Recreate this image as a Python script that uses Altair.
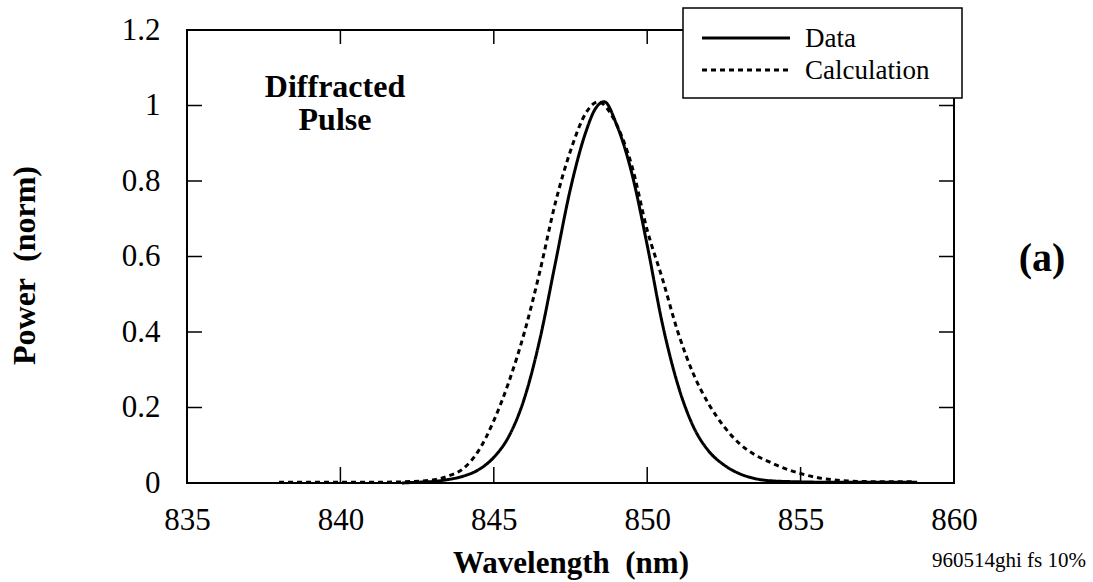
import altair as alt
import pandas as pd

# ---- data ----
data_wl = [842.0, 842.5, 843.0, 843.5, 844.0, 844.5, 845.0, 845.5, 846.0, 846.5,
           847.0, 847.5, 848.0, 848.3, 848.6, 849.0, 849.5, 850.0, 850.5, 851.0,
           851.5, 852.0, 852.5, 853.0, 853.5, 854.0, 855.0, 856.0, 857.0, 858.0, 858.8]
data_pw = [0.0, 0.002, 0.004, 0.009, 0.018, 0.035, 0.068, 0.125, 0.225, 0.38,
           0.58, 0.78, 0.93, 0.99, 1.01, 0.95, 0.82, 0.63, 0.42, 0.26,
           0.15, 0.085, 0.048, 0.025, 0.012, 0.006, 0.003, 0.002, 0.002, 0.002, 0.002]

calc_wl = [838.0, 839.0, 840.0, 841.0, 842.0, 843.0, 843.5, 844.0, 844.5, 845.0,
           845.5, 846.0, 846.5, 847.0, 847.5, 848.0, 848.4, 848.8, 849.0, 849.5,
           850.0, 850.5, 851.0, 851.5, 852.0, 852.5, 853.0, 853.5, 854.0, 854.5,
           855.0, 855.5, 856.0, 857.0, 858.0, 858.7]
calc_pw = [0.002, 0.002, 0.002, 0.002, 0.003, 0.008, 0.018, 0.038, 0.085, 0.165,
           0.27, 0.40, 0.56, 0.74, 0.88, 0.98, 1.01, 0.98, 0.95, 0.84,
           0.67, 0.54, 0.40, 0.29, 0.21, 0.15, 0.105, 0.075, 0.055, 0.038,
           0.025, 0.015, 0.009, 0.004, 0.003, 0.003]

series_names = ["Data", "Calculation"]
x_ticks = [835, 840, 845, 850, 855, 860]
y_ticks = [0, 0.2, 0.4, 0.6, 0.8, 1.0, 1.2]
x_inner_ticks = [840, 845, 850, 855]
y_inner_ticks = [0.2, 0.4, 0.6, 0.8, 1.0]

FONT = "'Times New Roman', 'Liberation Serif', 'DejaVu Serif', serif"
W, H = 767, 453

df = pd.concat([
    pd.DataFrame({"wl": data_wl, "pw": data_pw, "series": series_names[0]}),
    pd.DataFrame({"wl": calc_wl, "pw": calc_pw, "series": series_names[1]}),
])

xscale = alt.Scale(domain=[835, 860], nice=False, zero=False)
yscale = alt.Scale(domain=[0, 1.2], nice=False)
dash = alt.StrokeDash("series:N",
                      scale=alt.Scale(domain=series_names, range=[[1, 0], [5, 4]]),
                      legend=None)

lines = alt.Chart(df).mark_line(color="black", strokeWidth=3, interpolate="monotone").encode(
    x=alt.X("wl:Q", scale=xscale,
            axis=alt.Axis(values=x_ticks, format="d", labelFontSize=31, labelPadding=22,
                          labelFlush=False, labelOverlap=False, ticks=False, tickSize=0,
                          domain=False, grid=False, labelColor="black",
                          title="Wavelength\u00a0\u00a0(nm)", titleFontSize=31,
                          titleFontWeight="bold", titleColor="black",
                          titleY=89, titleBaseline="alphabetic")),
    y=alt.Y("pw:Q", scale=yscale,
            axis=alt.Axis(values=y_ticks, format=".1~f", labelFontSize=31, labelPadding=27,
                          ticks=False, tickSize=0, domain=False, grid=False,
                          labelColor="black",
                          title="Power\u00a0\u00a0(norm)", titleFontSize=32,
                          titleFontWeight="bold", titleColor="black", titleAngle=270,
                          titleX=-153, titleY=235, titleBaseline="alphabetic",
                          titleAlign="center")),
    strokeDash=dash,
)

xt = pd.DataFrame({"wl": x_inner_ticks})
yt = pd.DataFrame({"pw": y_inner_ticks})

bottom_ticks = alt.Chart(xt).mark_rule(color="black", strokeWidth=1.5).encode(
    x=alt.X("wl:Q", scale=xscale), y=alt.value(H), y2=alt.value(H - 16))
top_ticks = alt.Chart(xt).mark_rule(color="black", strokeWidth=1.5).encode(
    x=alt.X("wl:Q", scale=xscale), y=alt.value(0), y2=alt.value(14))
left_ticks = alt.Chart(yt).mark_rule(color="black", strokeWidth=1.5).encode(
    y=alt.Y("pw:Q", scale=yscale), x=alt.value(0), x2=alt.value(15))
right_ticks = alt.Chart(yt).mark_rule(color="black", strokeWidth=1.5).encode(
    y=alt.Y("pw:Q", scale=yscale), x=alt.value(W), x2=alt.value(W - 15))

# ---- legend box (drawn by hand) ----
one = pd.DataFrame({"a": [0]})
leg_df = pd.DataFrame({"series": series_names})

legend_box = alt.Chart(one).mark_rect(fill="white", stroke="black", strokeWidth=1.5).encode(
    x=alt.value(496), x2=alt.value(775), y=alt.value(-22), y2=alt.value(68))

leg_data_line = alt.Chart(leg_df).transform_filter(
    alt.datum.series == series_names[0]
).mark_rule(color="black", strokeWidth=3).encode(
    x=alt.value(515), x2=alt.value(603), y=alt.value(8), strokeDash=dash)
leg_calc_line = alt.Chart(leg_df).transform_filter(
    alt.datum.series == series_names[1]
).mark_rule(color="black", strokeWidth=3).encode(
    x=alt.value(515), x2=alt.value(603), y=alt.value(40), strokeDash=dash)

leg_data_text = alt.Chart(leg_df).transform_filter(
    alt.datum.series == series_names[0]
).mark_text(font=FONT, fontSize=27, align="left", baseline="alphabetic", color="black"
).encode(x=alt.value(618), y=alt.value(17), text="series:N")
leg_calc_text = alt.Chart(leg_df).transform_filter(
    alt.datum.series == series_names[1]
).mark_text(font=FONT, fontSize=27, align="left", baseline="alphabetic", color="black"
).encode(x=alt.value(618), y=alt.value(49), text="series:N")

label_text = alt.Chart(one).mark_text(
    text=["Diffracted", "Pulse"], font=FONT, fontSize=32, fontWeight="bold",
    align="center", baseline="alphabetic", lineHeight=33, color="black"
).encode(x=alt.value(148), y=alt.value(67))

panel_text = alt.Chart(one).mark_text(
    text="(a)", font=FONT, fontSize=40, fontWeight="bold", align="center",
    baseline="alphabetic", color="black"
).encode(x=alt.value(855), y=alt.value(241))

note_text = alt.Chart(one).mark_text(
    text="960514ghi fs 10%", font=FONT, fontSize=21, align="left",
    baseline="alphabetic", color="black"
).encode(x=alt.value(745), y=alt.value(537))

chart = alt.layer(
    lines, bottom_ticks, top_ticks, left_ticks, right_ticks,
    legend_box, leg_data_line, leg_calc_line, leg_data_text, leg_calc_text,
    label_text, panel_text, note_text
).properties(
    width=W, height=H,
    autosize=alt.AutoSizeParams(type="none"),
    padding={"left": 187, "top": 30, "right": 139, "bottom": 99},
    background="white",
).configure(
    font=FONT,
).configure_view(
    stroke="black", strokeWidth=2
).configure_axis(
    labelFont=FONT, titleFont=FONT
)

chart.save("out.html", embed_options={"renderer": "svg", "actions": False})
